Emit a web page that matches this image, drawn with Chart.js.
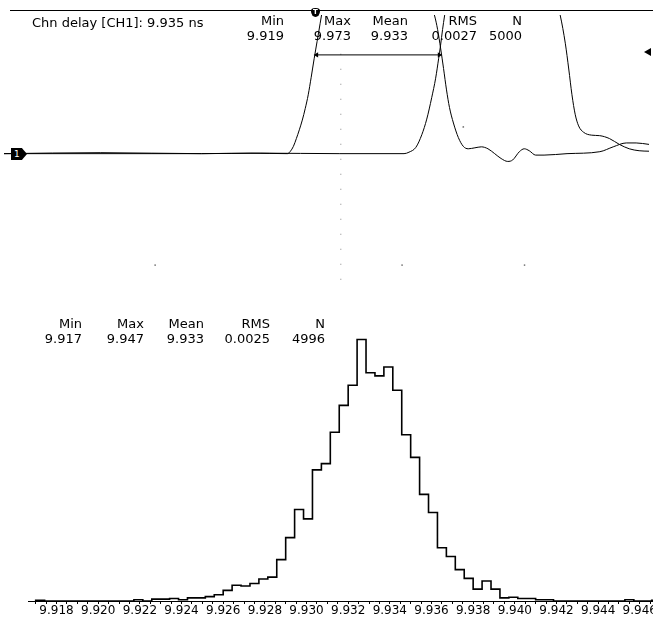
<!DOCTYPE html>
<html><head><meta charset="utf-8">
<script src="https://cdn.jsdelivr.net/npm/chart.js@4.4.1/dist/chart.umd.min.js"></script>
<style>
html,body{margin:0;padding:0;overflow:hidden;background:#fff;}
body{width:653px;height:622px;position:relative;font-family:'DejaVu Sans',Verdana,sans-serif;color:#000;}
#topWrap{position:absolute;left:0;top:11px;width:653px;height:296px;}
#histWrap{position:absolute;left:0;top:300px;width:720px;height:322px;}
.col{position:absolute;font-size:13px;line-height:15px;white-space:nowrap;text-align:right;}
#title{position:absolute;left:32px;top:15px;font-size:13px;line-height:15px;white-space:nowrap;}
#topline{position:absolute;left:10px;top:10px;width:643px;height:1px;background:#000;}
#chMark{position:absolute;left:11px;top:148px;width:16px;height:12px;background:#000;color:#fff;font-size:9px;line-height:12px;text-indent:3px;clip-path:polygon(0 0,68% 0,100% 50%,68% 100%,0 100%);}
#trgMark{position:absolute;left:311px;top:8px;width:9px;height:9px;background:#000;color:#fff;font-size:7px;line-height:9px;text-align:center;border-radius:45% 45% 50% 50%/35% 35% 65% 65%;font-weight:bold;}
#lvlMark{position:absolute;left:644px;top:48px;width:0;height:0;border-top:4px solid transparent;border-bottom:4px solid transparent;border-right:7px solid #000;}
</style></head><body>
<div id="topWrap"><canvas id="topChart" width="653" height="296"></canvas></div>
<div id="histWrap"><canvas id="histChart" width="720" height="322"></canvas></div>
<div id="topline"></div>
<div id="title">Chn delay [CH1]: 9.935 ns</div>
<div id="chMark">1</div>
<div id="trgMark">T</div>
<div id="lvlMark"></div>
<script>
// ---- statistics tables ----
const statNames = ['Min', 'Max', 'Mean', 'RMS', 'N'];
const waveStats = ['9.919', '9.973', '9.933', '0.0027', '5000'];
const histStats = ['9.917', '9.947', '9.933', '0.0025', '4996'];

// ---- waveform traces (time in ns, amplitude in mV) ----
const trace1T = [0, 7.84, 16, 20, 22.96, 23.2, 23.44, 23.68, 23.92, 24.16, 24.4, 24.64, 24.88, 25.12, 25.36, 25.6, 25.76, 25.92, 26.4, 34.0, 34.56, 34.88, 35.12, 35.36, 35.6, 35.84, 36.08, 36.4, 36.8, 37.2, 37.6, 38.14, 38.66, 39.2, 39.74, 40.26, 40.8, 41.2, 41.74, 42.14, 42.54, 43.06, 43.74, 45.6, 48.26, 49.34, 50.4, 51.2, 52.24];
const trace1V = [0, 2, 0, 1, 0, 5, 15, 31, 49, 69, 93, 121, 157, 195, 231, 267, 291, 315, 347, 347, 307, 283, 255, 217, 175, 131, 95, 63, 33, 15, 10, 12, 14, 10, 0, -10, -16, -13, 4, 10, 6, -3, -3, 0, 4, 14, 22, 22, 19];
const trace2T = [0, 16, 20.8, 27.2, 32.4, 32.8, 33.36, 33.84, 34.24, 34.64, 34.96, 35.2, 35.36, 35.52, 35.68, 35.84, 36.4, 44.24, 44.8, 45.06, 45.46, 45.74, 46.0, 46.26, 46.54, 46.94, 47.6, 48.24, 49.04, 49.84, 50.64, 51.44, 52.24];
const trace2V = [0, 0, 1, 0, 0, 3, 13, 39, 71, 115, 155, 195, 223, 255, 283, 307, 347, 347, 307, 283, 227, 174, 121, 81, 57, 44, 38, 37, 31, 19, 10, 6, 5];

// delay measurement (ns) and the level it is taken at (mV)
const delayStart = 25.32;
const delayValue = 9.935;
const delayLevel = 203;
const triggerTime = 27.28;
const graticuleDotsT = [12.24, 32.24, 42.16, 37.2];
const graticuleDotsV = [-229, -229, -229, 55];

// ---- histogram ----
const histMin = 9.917;
const histMax = 9.947;
const histCounts = [1, 0, 0, 0, 0, 0, 0, 0, 0, 0,
  0, 2, 0, 3, 3, 4, 2, 5, 5, 7,
  10, 17, 25, 24, 28, 35, 38, 66, 101, 146,
  131, 209, 219, 269, 312, 344, 417, 364, 359, 373,
  336, 265, 229, 170, 141, 85, 71, 50, 36, 19,
  32, 19, 5, 6, 4, 4, 2, 2, 0, 0,
  0, 0, 0, 0, 0, 0, 2, 0, 0, 1];
const tickLabels = ['9.918', '9.920', '9.922', '9.924', '9.926', '9.928', '9.930', '9.932', '9.934', '9.936', '9.938', '9.940', '9.942', '9.944', '9.946'];
const minorTickStep = 0.0005;

// ---- stats text ----
function addCols(edges, top, values) {
  statNames.forEach((n, i) => {
    const d = document.createElement('div');
    d.className = 'col';
    d.style.right = (653 - edges[i]) + 'px';
    d.style.top = top + 'px';
    d.innerHTML = n + '<br>' + values[i];
    document.body.appendChild(d);
  });
}
addCols([284, 351, 408, 477, 522], 13, waveStats);
addCols([82, 144, 204, 270, 325], 316, histStats);

const common = {responsive: false, animation: false, events: [], plugins: {legend: {display: false}, tooltip: {enabled: false}}};

// ---- waveform chart ----
const pts = (xs, ys) => xs.map((x, i) => ({x: x, y: ys[i]}));
new Chart(document.getElementById('topChart'), {
  type: 'line',
  data: {datasets: [
    {data: pts(trace1T, trace1V), borderColor: '#000', borderWidth: 1, pointRadius: 0, cubicInterpolationMode: 'monotone', fill: false},
    {data: pts(trace2T, trace2V), borderColor: '#000', borderWidth: 1, pointRadius: 0, cubicInterpolationMode: 'monotone', fill: false},
    {data: [{x: delayStart, y: delayLevel}, {x: delayStart + delayValue, y: delayLevel}], borderColor: '#000', borderWidth: 1,
      pointStyle: 'triangle', pointRadius: 3, pointRotation: [270, 90], pointBackgroundColor: '#000', pointBorderColor: '#000', pointBorderWidth: 0},
    {data: [{x: triggerTime, y: 267}, {x: triggerTime, y: -285}], borderColor: '#888', borderWidth: 1, borderDash: [1, 14], pointRadius: 0},
    {data: pts(graticuleDotsT, graticuleDotsV), showLine: false, pointRadius: 0.9, pointBackgroundColor: '#777', pointBorderWidth: 0}
  ]},
  options: Object.assign({}, common, {
    layout: {padding: 0},
    scales: {
      x: {type: 'linear', display: false, min: 0, max: 52.24},
      y: {display: false, min: -307, max: 285}
    }
  })
});

// ---- histogram chart ----
const binWidth = (histMax - histMin) / histCounts.length;
const histPts = [{x: histMin, y: 0}];
histCounts.forEach((c, k) => histPts.push({x: histMin + k * binWidth, y: c}));
histPts.push({x: histMax, y: 0});

new Chart(document.getElementById('histChart'), {
  type: 'line',
  data: {datasets: [
    {data: histPts, stepped: 'before', borderColor: '#000', borderWidth: 1.6, pointRadius: 0, fill: false}
  ]},
  options: Object.assign({}, common, {
    layout: {padding: {left: 28, top: 10, right: 0, bottom: 0}},
    scales: {
      x: {
        type: 'linear', min: 9.91663, max: 9.94985,
        afterBuildTicks: (scale) => {
          const t = [];
          for (let v = histMin; v <= scale.max + 1e-9; v += minorTickStep) t.push({value: v});
          scale.ticks = t;
        },
        afterFit: (scale) => { scale.height = 21; },
        grid: {display: true, drawOnChartArea: false, drawTicks: true, tickLength: 3, color: '#000', lineWidth: 1},
        border: {display: true, color: '#000', width: 1},
        ticks: {
          autoSkip: false, maxRotation: 0, minRotation: 0, padding: 0, color: '#000',
          font: {family: "'DejaVu Sans', Verdana, sans-serif", size: 12},
          callback: (value) => {
            const s = value.toFixed(3);
            return (tickLabels.includes(s) && Math.abs(value - parseFloat(s)) < 1e-7) ? s : '';
          }
        }
      },
      y: {display: false, min: 0, max: 464}
    }
  })
});
</script>
</body></html>
